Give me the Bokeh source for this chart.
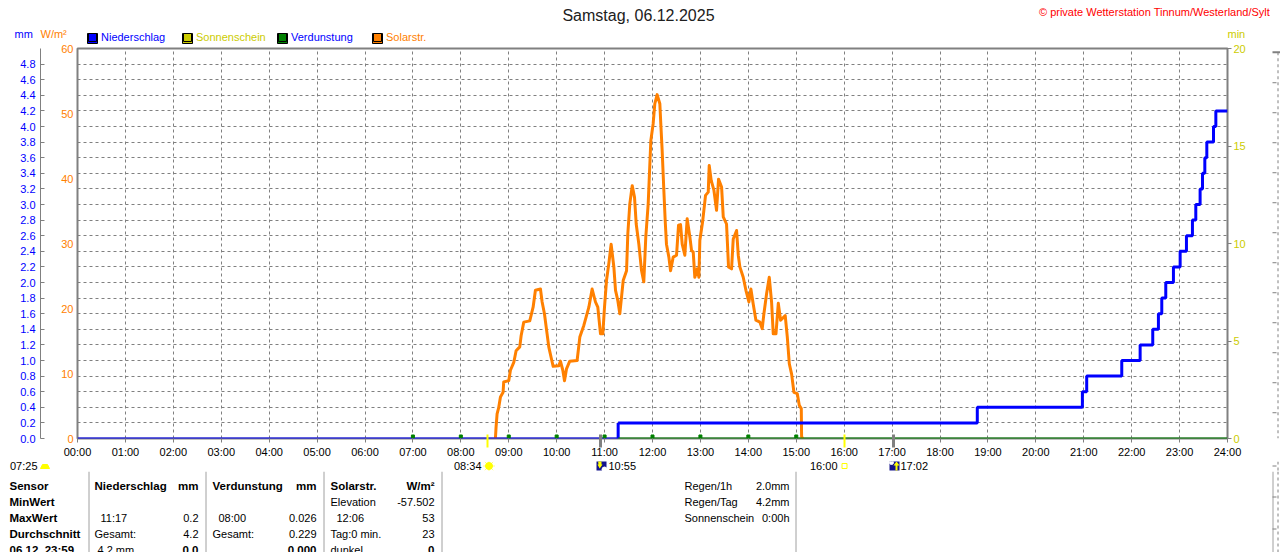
from bokeh.plotting import figure
from bokeh.embed import file_html
from bokeh.resources import INLINE
from bokeh.core.properties import value
from bokeh.layouts import column, row
from bokeh.models import Range1d, LinearAxis, FixedTicker, Legend, LegendItem, Grid

TITLE = "Samstag, 06.12.2025"
COPYRIGHT = "© private Wetterstation Tinnum/Westerland/Sylt"

hour_ticks = [h * 60 for h in range(25)]
hour_labels = ["%02d:00" % h for h in range(25)]
mm_ticks = [round(i * 0.2, 1) for i in range(25)]
mm_grid = [round(i * 0.2, 1) for i in range(1, 25)]
solar_ticks = [0, 10, 20, 30, 40, 50, 60]
min_ticks = [0, 5, 10, 15, 20]
sun_marks = [514, 960]
twilight_marks = [655, 1022]

solar_t = [523.3, 524.1, 525.4, 527.5, 529.6, 532.9, 533.7, 540, 542.1, 546.3, 549.2, 553.8, 555.5, 558.8,
           566.3, 570.5, 573.4, 579.7, 581.8, 584.7, 588, 590.1, 593, 595.6, 602.7, 604.7, 607.7, 609.8,
           612.3, 616.4, 625.6, 629, 634, 640.3, 644.4, 648.6, 651.5, 654.9, 657.8, 659.9, 662.4, 665.3,
           668.2, 671.6, 673.7, 676.6, 679.1, 683.3, 687.5, 689.1, 691.6, 694.6, 697.5, 699.6, 702.9,
           706.2, 709.1, 711.6, 714.6, 717.9, 720.8, 722.9, 725.8, 729.2, 730.4, 732.1, 734.2, 735.9,
           737.5, 740.5, 742.6, 745.9, 750.1, 752.6, 755.1, 757.2, 760.5, 763.4, 766.8, 768.9, 771, 773,
           776, 778.1, 779.3, 782.7, 786.4, 789.8, 791, 793.5, 796.9, 800.2, 802.7, 806.5, 808.6, 812.7,
           815.2, 819, 821.1, 825.3, 827.4, 829.4, 833.6, 837, 840.7, 843.2, 846.1, 849.5, 854.5, 857.4,
           859.5, 862.9, 866.2, 869.1, 871.2, 874.6, 877.5, 880.4, 886.2, 888.8, 891.3, 894.2, 897.1,
           901.3, 903.8, 906.3, 906.7, 908]
solar_v = [0, 1.7, 3.8, 4.8, 6.4, 7.1, 8.7, 8.9, 10.5, 11.7, 13.5, 14.1, 15.8, 17.9,
           18.1, 20.2, 22.8, 23.0, 21.0, 19.2, 16.1, 14.1, 12.5, 11.1, 11.2, 11.9, 10.5, 8.9,
           10.7, 11.9, 12.0, 15.6, 17.4, 20.2, 23.0, 21.0, 20.2, 16.1, 16.1, 20.2, 24.3, 26.9,
           29.9, 26.4, 22.8, 21.2, 19.2, 24.3, 25.8, 31.5, 36.1, 38.9, 37.1, 33.0, 29.9,
           25.9, 24.1, 31.0, 36.1, 45.8, 48.4, 51.5, 52.9, 51.5, 48.4, 44.3, 38.2, 33.5,
           29.9, 27.9, 25.8, 27.9, 28.2, 32.8, 32.9, 29.9, 28.2, 33.8, 31.0, 28.9, 28.7, 24.8,
           26.1, 24.8, 30.5, 33.3, 37.4, 37.9, 42.0, 39.7, 38.2, 35.1, 39.9, 38.7, 34.1, 33.0,
           26.4, 26.1, 30.7, 32.0, 28.2, 26.4, 24.8, 22.8, 21.0, 23.0, 20.7, 18.2, 17.9, 16.9,
           19.2, 22.3, 24.8, 21.0, 16.1, 16.1, 20.8, 18.2, 18.9, 15.6, 11.5, 9.9, 7.1,
           6.9, 5.1, 4.6, 0.3, 0]

rain_zero_t = [0, 677]
rain_zero_v = [0, 0]
rain_t = [677, 1126.7, 1258.3, 1263.7, 1307.6, 1330.6, 1346.4, 1353.5, 1357.7, 1362.7, 1372.3,
          1380.7, 1388.6, 1396.1, 1400.3, 1405.7, 1408.7, 1411.6, 1414.1, 1422.5, 1425.4, 1440]
rain_v = [0.2, 0.4, 0.6, 0.8, 1.0, 1.2, 1.4, 1.6, 1.8, 2.0, 2.2,
          2.4, 2.6, 2.8, 3.0, 3.2, 3.4, 3.6, 3.8, 4.0, 4.2, 4.2]

evap_t = [677, 1440]
evap_v = [0, 0]
evap_mark_t = [420, 480, 540, 600, 660, 720, 780, 840, 900]
evap_mark_v = [0.026, 0.026, 0.026, 0.026, 0.026, 0.026, 0.026, 0.026, 0.026]

BLUE, ORANGE, YELLOW, GREEN, GRAY = "#0000ff", "#ff8000", "#cccc00", "#008000", "#808080"
SUN, NAVY, TABLE_LINE = "#ffff00", "#14148c", "#a0a0a0"
FONT = "Liberation Sans"


def px_fig(x0, x1, y0, y1):
    f = figure(width=x1 - x0, height=y1 - y0, output_backend="svg", toolbar_location=None,
               x_range=Range1d(x0, x1), y_range=Range1d(y1, y0), x_axis_type=None, y_axis_type=None,
               min_border=0, outline_line_color=None)
    f.grid.visible = False
    return f


def lab(f, text, x, y, color="black", size=11, bold=False, align="left", font=FONT):
    f.text([x], [y], text=[text], text_color=color, text_font=value(font),
           text_font_size=value("%gpx" % (11.5 if bold else size)),
           text_font_style="bold" if bold else "normal",
           text_align=align, text_baseline="middle")


def vline(f, x, y0, y1, color=GRAY, width=1, dash="solid"):
    f.segment([x], [y0], [x], [y1], line_color=color, line_width=width, line_dash=dash)


def neighbour(f, y0, y1):
    vline(f, 1277.5, y0, y1, dash="3 3")
    for k in range(15):
        y = 80 + 32 * k
        if y0 <= y <= y1:
            f.segment([1272], [y + .5], [1276], [y + .5], line_color=GRAY)


# ---------- top strip ----------
top = px_fig(0, 1280, 0, 44)
lab(top, TITLE, 638, 15, "#202020", 16, align="center")
lab(top, COPYRIGHT, 1154, 11, "#ff0000", 11, align="center")
lab(top, "mm", 14, 33, BLUE)
lab(top, "W/m²", 40, 33, ORANGE)
lab(top, "min", 1227, 33, YELLOW)
leg_names = ["Niederschlag", "Sonnenschein", "Verdunstung", "Solarstr."]
leg_fill = [BLUE, YELLOW, GREEN, ORANGE]
leg_text = [BLUE, YELLOW, BLUE, ORANGE]
leg_left = [87, 182, 277, 372]
for name, fc, tc, lft in zip(leg_names, leg_fill, leg_text, leg_left):
    r = top.quad(left=[lft], right=[lft + 10], top=[33], bottom=[43], fill_color=fc, line_color="black")
    top.add_layout(Legend(items=[LegendItem(label=name, renderers=[r])], location=(lft, 1),
                          glyph_width=10, glyph_height=10, label_height=10, label_standoff=4,
                          padding=0, margin=0, spacing=0, border_line_color=None,
                          background_fill_alpha=0, label_text_font=FONT,
                          label_text_font_size="11px", label_text_color=tc))

# ---------- main chart ----------
p = figure(width=1260, height=416, output_backend="svg", toolbar_location=None,
           x_range=Range1d(0, 1440), y_range=Range1d(0, 60),
           min_border_left=77, min_border_right=33, min_border_top=4, min_border_bottom=22,
           background_fill_color="white", border_fill_color="white", x_axis_location=None)
p.extra_y_ranges = {"mm": Range1d(0, 5), "min": Range1d(0, 20)}
p.outline_line_color = GRAY
p.outline_line_width = 2


def tick_axis(ticks, color, w, out, inner):
    ax = LinearAxis(ticker=FixedTicker(ticks=ticks), major_label_overrides={t: "" for t in ticks},
                    axis_line_color=None, major_tick_line_color=color, major_tick_line_width=w,
                    minor_tick_line_color=None, major_tick_out=out, major_tick_in=inner,
                    major_label_standoff=0, major_label_text_font_size="0px")
    p.add_layout(ax, "below")


# stacked axes under the frame: each hangs its ticks from the previous one's end
tick_axis(hour_ticks, GRAY, 1, 4, 0)
tick_axis(sun_marks, SUN, 2, 5, 8)
tick_axis(twilight_marks, GRAY, 3, 0, 13)

hours = LinearAxis(ticker=FixedTicker(ticks=hour_ticks),
                   major_label_overrides=dict(zip(hour_ticks, hour_labels)),
                   axis_line_color=None, major_tick_line_color=None, minor_tick_line_color=None,
                   major_tick_out=0, major_tick_in=0, major_label_standoff=-2,
                   major_label_text_font=FONT, major_label_text_font_size="11px",
                   major_label_text_color="black")
p.add_layout(hours, "below")

sol = p.yaxis[0]
sol.ticker = FixedTicker(ticks=solar_ticks)
sol.axis_line_color = None
sol.major_tick_line_color = None
sol.minor_tick_line_color = None
sol.major_tick_out = 0
sol.major_tick_in = 0
sol.major_label_standoff = 4
sol.major_label_text_font = FONT
sol.major_label_text_font_size = "11px"
sol.major_label_text_color = ORANGE
sol.axis_label = " "
sol.axis_label_standoff = 3
sol.axis_label_text_font_size = "11px"

mm_axis = LinearAxis(y_range_name="mm", ticker=FixedTicker(ticks=mm_ticks),
                     major_label_overrides={t: "%.1f" % t for t in mm_ticks},
                     axis_line_color=GRAY, major_tick_line_color=GRAY, minor_tick_line_color=None,
                     major_tick_out=0, major_tick_in=4, major_label_standoff=5,
                     major_label_text_color=BLUE, major_label_text_font=FONT,
                     major_label_text_font_size="11px")
p.add_layout(mm_axis, "left")

min_axis = LinearAxis(y_range_name="min", ticker=FixedTicker(ticks=min_ticks),
                      axis_line_color=None, major_tick_line_color=GRAY, minor_tick_line_color=None,
                      major_tick_out=4, major_tick_in=0, major_label_standoff=2,
                      major_label_text_color=YELLOW, major_label_text_font=FONT,
                      major_label_text_font_size="11px")
p.add_layout(min_axis, "right")

p.grid.visible = False
p.add_layout(Grid(dimension=0, ticker=FixedTicker(ticks=hour_ticks), grid_line_color=GRAY, grid_line_dash="3 3"))
p.add_layout(Grid(dimension=1, y_range_name="mm", ticker=FixedTicker(ticks=mm_grid),
                  grid_line_color=GRAY, grid_line_dash="3 3"))

p.line(solar_t, solar_v, line_color=ORANGE, line_width=3, line_join="round")
p.line(rain_zero_t, rain_zero_v, y_range_name="mm", line_color=BLUE, line_width=2)
p.step(rain_t, rain_v, y_range_name="mm", line_color=BLUE, line_width=3, mode="after")
p.segment([rain_t[0]], [0], [rain_t[0]], [rain_v[0]], y_range_name="mm", line_color=BLUE, line_width=3)
p.line(evap_t, evap_v, y_range_name="mm", line_color=GREEN, line_width=2)
p.scatter(evap_mark_t, evap_mark_v, y_range_name="mm", marker="square", size=3,
          line_color=GREEN, fill_color=GREEN)

# ---------- clipped neighbouring panel beside the chart ----------
strip = px_fig(1260, 1280, 44, 460)
strip.segment([1272], [48], [1280], [48], line_color=GRAY, line_width=2)
neighbour(strip, 48, 460)

# ---------- sunrise / sunset row ----------
mid = px_fig(0, 1280, 460, 471)
lab(mid, "07:25", 37, 464.5, align="right")
mid.patch([40, 42, 47, 49], [467, 463, 463, 467], fill_color=SUN, line_color=SUN)
lab(mid, "08:34", 481, 464.5, align="right")
mid.scatter([488.5], [464.5], marker="asterisk", size=12, line_color="#ffff80", line_width=1)
mid.scatter([488.5], [464.5], marker="circle", size=7, fill_color=SUN, line_color=SUN)
lab(mid, "10:55", 608, 464.5)
mid.quad(left=[596], right=[606], top=[458], bottom=[469], fill_color=NAVY, line_color=None)
mid.patch([597.5, 601, 601, 602, 599.2, 597, 598], [459, 459, 463, 463, 467, 463, 463],
          fill_color=SUN, line_color=None)
mid.scatter([604], [468], marker="circle", size=5, fill_color="white", line_color="white")
lab(mid, "16:00", 837, 464.5, align="right")
mid.quad(left=[841.5], right=[846.5], top=[462], bottom=[467], fill_color=None, line_color=SUN)
lab(mid, "17:02", 900, 464.5)
mid.quad(left=[889], right=[899], top=[458], bottom=[469], fill_color=NAVY, line_color=None)
mid.patch([896, 899, 897, 897, 895, 895, 893], [460, 464, 464, 469, 469, 464, 464],
          fill_color=SUN, line_color=None)
mid.scatter([891], [461], marker="circle", size=4, fill_color="white", line_color="white")
neighbour(mid, 460, 471)

# ---------- summary table ----------
tbl = px_fig(0, 1280, 471, 552)
for x in [88.5, 205.5, 323.5, 441.5, 795.5, 1272.5]:
    vline(tbl, x, 471, 552, TABLE_LINE)
neighbour(tbl, 471, 552)
rows = [485, 501, 517, 533, 549]
for txt, y in zip(["Sensor", "MinWert", "MaxWert", "Durchschnitt", "06.12. 23:59"], rows):
    lab(tbl, txt, 9, y, bold=True)
lab(tbl, "Niederschlag", 94, rows[0], bold=True)
lab(tbl, "mm", 198, rows[0], bold=True, align="right")
lab(tbl, "11:17", 100, rows[2])
lab(tbl, "0.2", 198, rows[2], align="right")
lab(tbl, "Gesamt:", 94, rows[3])
lab(tbl, "4.2", 198, rows[3], align="right")
lab(tbl, "4.2 mm", 97, rows[4])
lab(tbl, "0.0", 198, rows[4], bold=True, align="right")
lab(tbl, "Verdunstung", 212, rows[0], bold=True)
lab(tbl, "mm", 316, rows[0], bold=True, align="right")
lab(tbl, "08:00", 218, rows[2])
lab(tbl, "0.026", 316, rows[2], align="right")
lab(tbl, "Gesamt:", 212, rows[3])
lab(tbl, "0.229", 316, rows[3], align="right")
lab(tbl, "0.000", 316, rows[4], bold=True, align="right")
lab(tbl, "Solarstr.", 330, rows[0], bold=True)
lab(tbl, "W/m²", 434, rows[0], bold=True, align="right")
lab(tbl, "Elevation", 330, rows[1])
lab(tbl, "-57.502", 434, rows[1], align="right")
lab(tbl, "12:06", 336, rows[2])
lab(tbl, "53", 434, rows[2], align="right")
lab(tbl, "Tag:0 min.", 330, rows[3])
lab(tbl, "23", 434, rows[3], align="right")
lab(tbl, "dunkel", 330, rows[4])
lab(tbl, "0", 434, rows[4], bold=True, align="right")
lab(tbl, "Regen/1h", 684, rows[0])
lab(tbl, "2.0mm", 789, rows[0], align="right")
lab(tbl, "Regen/Tag", 684, rows[1])
lab(tbl, "4.2mm", 789, rows[1], align="right")
lab(tbl, "Sonnenschein", 684, rows[2])
lab(tbl, "0:00h", 789, rows[2], align="right")

page = column(top, row(p, strip, spacing=0), mid, tbl, spacing=0)
open("out.html", "w").write(file_html(page, INLINE))
